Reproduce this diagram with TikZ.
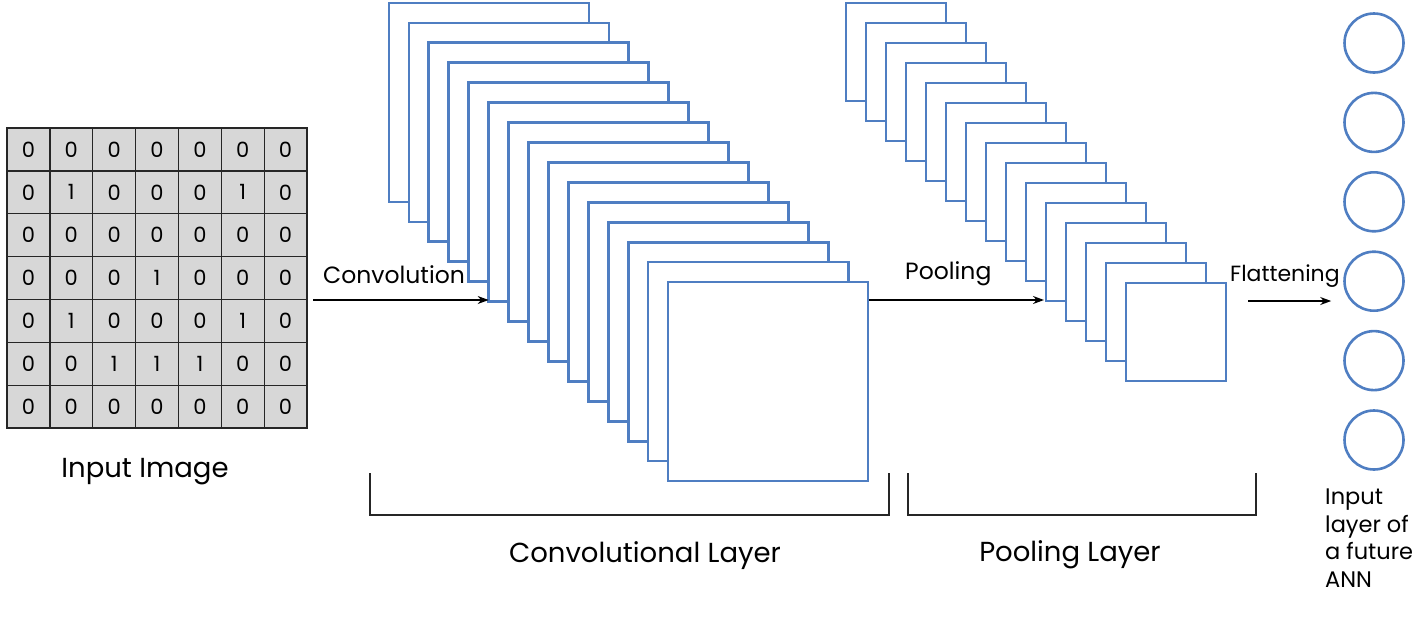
\documentclass[tikz,border=0pt]{standalone}
\usepackage{fontspec}
\setmainfont{Poppins}
\usetikzlibrary{arrows.meta}
\definecolor{fmblue}{HTML}{4F7EC2}
\definecolor{cellgray}{HTML}{D7D7D7}
\tikzset{
  fmap/.style={draw=fmblue,line width=2.8pt,fill=white,anchor=north west,inner sep=0pt,outer sep=0pt},
  cell/.style={draw=black!85,line width=1.3pt,fill=cellgray,minimum size=42.86pt,inner sep=0pt,outer sep=0pt,font=\fontsize{21}{21}\selectfont},
  neuron/.style={circle,draw=fmblue,line width=2.6pt,minimum size=59pt,inner sep=0pt},
  lbl/.style={font=\fontsize{23.5}{23.5}\selectfont,inner sep=0pt},
  biglbl/.style={font=\fontsize{27.5}{27.5}\selectfont,inner sep=0pt},
  arr/.style={-{Stealth[length=11pt,width=8pt]},line width=1.5pt,black},
  brk/.style={line width=1.6pt,black!85}
}
\begin{document}
\begin{tikzpicture}[x=1pt,y=-1pt]
\useasboundingbox (0,0) rectangle (1416,622);
% input grid
\foreach \row [count=\r from 0] in {{0,0,0,0,0,0,0},{0,1,0,0,0,1,0},{0,0,0,0,0,0,0},{0,0,0,1,0,0,0},{0,1,0,0,0,1,0},{0,0,1,1,1,0,0},{0,0,0,0,0,0,0}}{
  \foreach \v [count=\c from 0] in \row {
    \node[cell] (g-\r-\c) at ({7+21.43+42.86*\c},{128+21.43+42.86*\r}) {\v};
  }
}
\node[biglbl] (inlbl) at (145,472) {Input Image};
% convolution stack
\foreach \i in {0,...,14}{
  \node[fmap,minimum width=200pt,minimum height=199pt] (c\i) at ({389+19.93*\i},{3+19.93*\i}) {};
}
% pooling stack
\foreach \i in {0,...,14}{
  \node[fmap,minimum width=100pt,minimum height=98pt] (p\i) at ({846+20*\i},{3+20*\i}) {};
}
% neurons
\foreach \k in {0,...,5}{
  \node[neuron] (n\k) at (1374,{43+79.4*\k}) {};
}
% arrows
\coordinate (a1s) at ([xshift=6pt]g-4-6.east |- 0,300);
\coordinate (a1e) at (c5.west |- 0,300);
\draw[arr] (a1s) -- (a1e);
\node[lbl,anchor=south west] (convlbl) at (323,284) {Convolution};
\coordinate (a2s) at ([xshift=1pt]c14.east |- 0,300);
\coordinate (a2e) at ([xshift=-2pt]p10.west |- 0,300);
\draw[arr] (a2s) -- (a2e);
\node[lbl,anchor=south west] (poollbl) at (905,286) {Pooling};
\coordinate (a3s) at (1248,301);
\coordinate (a3e) at ([xshift=-12pt]n3.west |- 0,301);
\draw[arr] (a3s) -- (a3e);
\node[lbl,anchor=south west,font=\fontsize{22}{22}\selectfont] (flatlbl) at (1230,288) {Flattening};
% brackets
\draw[brk] (370,473) -- (370,515) -- (889,515) -- (889,473);
\draw[brk] (908,473) -- (908,515) -- (1256,515) -- (1256,473);
\node[biglbl] (convlayer) at (645,556) {Convolutional Layer};
\node[biglbl] (poollayer) at (1070,555) {Pooling Layer};
\node[lbl,anchor=north west,align=left,font=\fontsize{22.5}{27.5}\selectfont] (annlbl) at (1325,489) {Input\\layer of\\a future\\ANN};
\end{tikzpicture}
\end{document}
